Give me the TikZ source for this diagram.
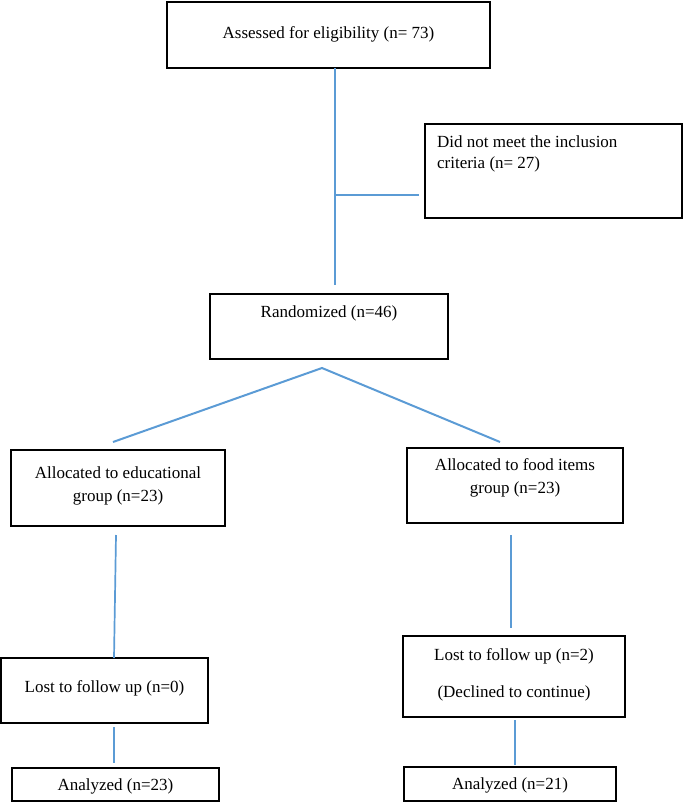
\documentclass[tikz,border=0pt]{standalone}
\usepackage{fontspec}
\setmainfont{Liberation Serif}
\usetikzlibrary{positioning}
\definecolor{flowblue}{RGB}{91,155,213}
\tikzset{
	box/.style={
		rectangle,
		draw=black,
		line width=2.2pt,
		inner sep=0pt,
	},
	txt/.style={
		anchor=center,
		align=center,
		inner sep=0pt,
		font=\fontsize{17}{23}\selectfont,
	},
	link/.style={
		draw=flowblue,
		line width=1.7pt,
	}
}

\begin{document}
\begin{tikzpicture}[x=1pt,y=-1pt]
	\useasboundingbox (0,0) rectangle (685,803);
	% boxes
	\node [box,minimum width=323,minimum height=66,label={[txt,yshift=-33]north:Assessed for eligibility (n= 73)}] (assess) at (328.5,35) {};
	\node [box,minimum width=257,minimum height=94,label={[txt,anchor=north west,align=left,xshift=13,yshift=-13,font=\fontsize{17}{21}\selectfont]north west:Did not meet the inclusion\\criteria (n= 27)}] (excl) at (553.5,171) {};
	\node [box,minimum width=238,minimum height=65,label={[txt,yshift=-21]north:Randomized (n=46)}] (rand) at (329,326.5) {};
	\node [box,minimum width=214,minimum height=76,label={[txt,yshift=-37]north:Allocated to educational\\group (n=23)}] (edu) at (118,488) {};
	\node [box,minimum width=216,minimum height=75,label={[txt,yshift=-31]north:Allocated to food items\\group (n=23)}] (food) at (515,485.5) {};
	\node [box,minimum width=207,minimum height=65,label={[txt,yshift=-31]north:Lost to follow up (n=0)}] (lostL) at (104.5,690.5) {};
	\node [box,minimum width=222,minimum height=81,label={[txt,yshift=-40]north:Lost to follow up (n=2)\\[14pt](Declined to continue)}] (lostR) at (514,676.5) {};
	\node [box,minimum width=207,minimum height=33,label={[txt,yshift=-19.5]north:Analyzed (n=23)}] (anaL) at (115.5,784.5) {};
	\node [box,minimum width=212,minimum height=34,label={[txt,yshift=-20]north:Analyzed (n=21)}] (anaR) at (510,784) {};
	% line ends
	\coordinate (trunktop) at (335,68);
	\coordinate (trunkend) at (335,285);
	\coordinate (branch) at (335,195);
	\coordinate (branchend) at (419,195);
	\coordinate (split) at (322,368);
	\coordinate (splitL) at (113,442);
	\coordinate (splitR) at (500,442);
	\coordinate (eduout) at (116,535);
	\coordinate (lostLin) at (114,658);
	\coordinate (foodout) at (511,535);
	\coordinate (lostRin) at (511,628);
	\coordinate (lostLout) at (114,727);
	\coordinate (anaLin) at (114,763);
	\coordinate (lostRout) at (515,720);
	\coordinate (anaRin) at (515,765);
	% connectors
	\draw[link] (trunktop) -- (trunkend);
	\draw[link] (branch) -- (branchend);
	\draw[link,line width=2pt] (splitL) -- (split) -- (splitR);
	\draw[link] (eduout) -- (lostLin);
	\draw[link] (foodout) -- (lostRin);
	\draw[link,line width=1.3pt] (lostLout) -- (anaLin);
	\draw[link,line width=1.3pt] (lostRout) -- (anaRin);
\end{tikzpicture}
\end{document}
